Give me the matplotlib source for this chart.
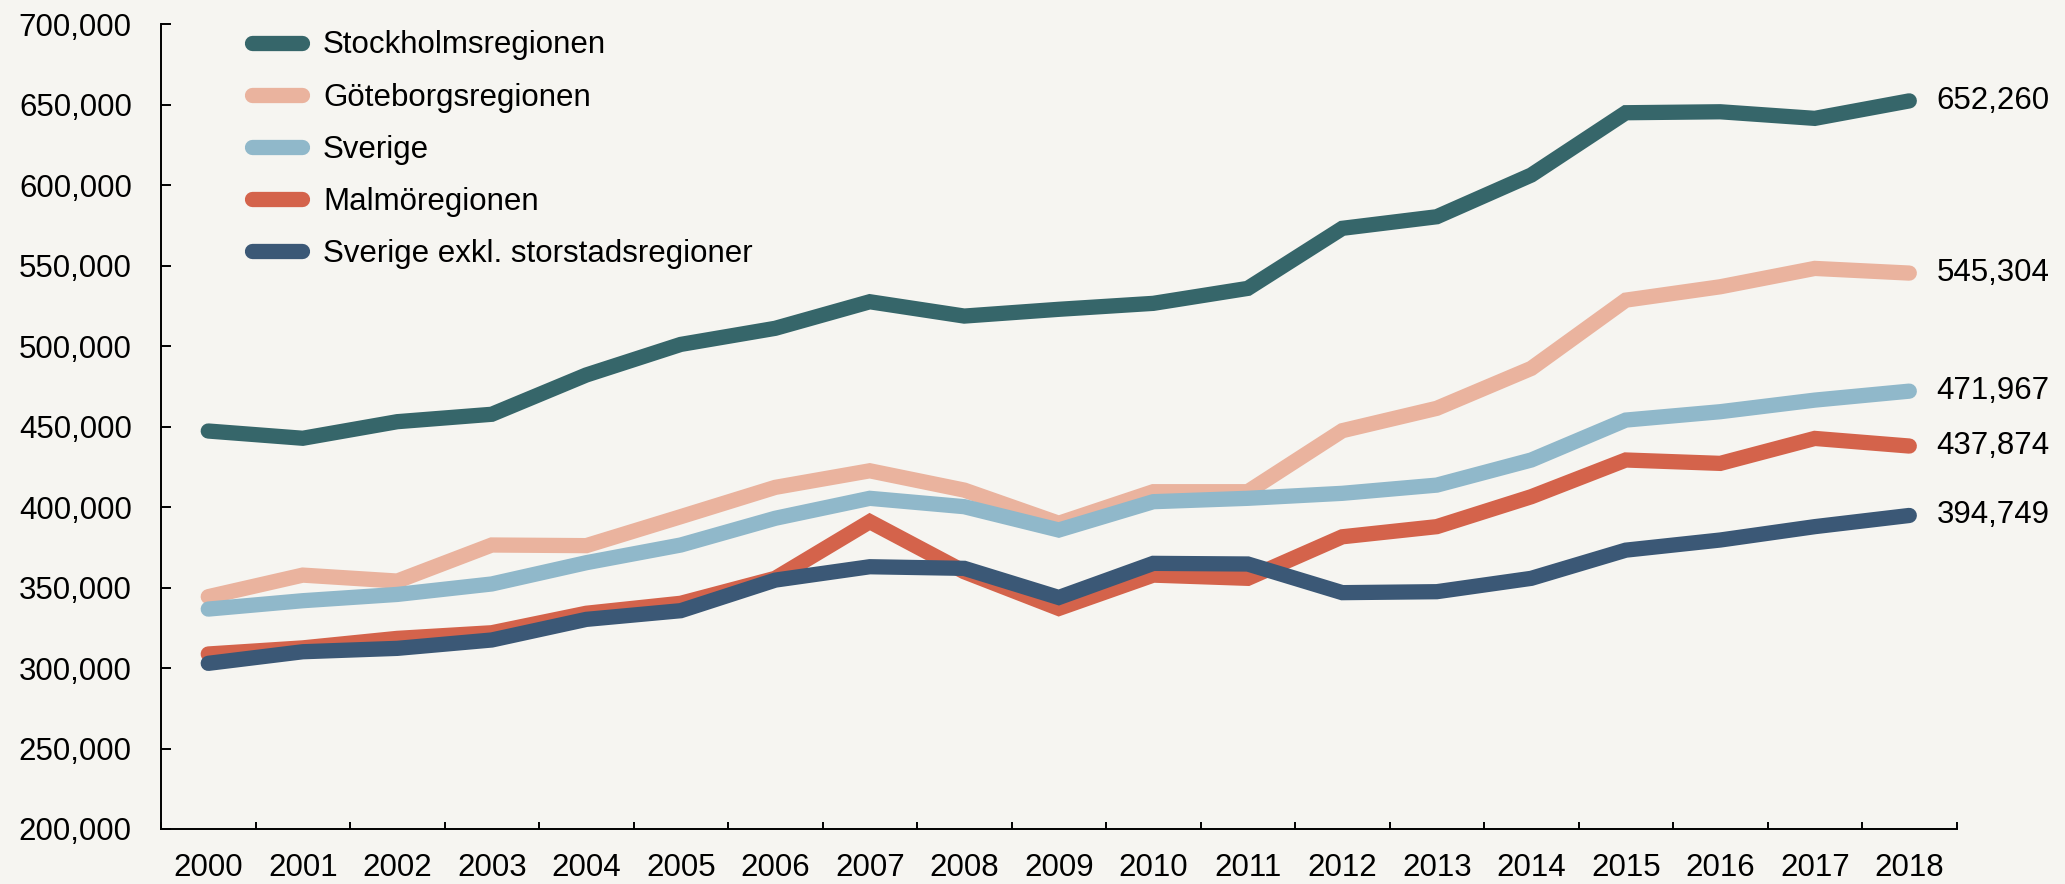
# Library import
import numpy as np
import matplotlib
matplotlib.use('Agg')
import matplotlib.pyplot as plt
from matplotlib.ticker import FuncFormatter

plt.rcParams['font.family'] = ['Liberation Sans', 'DejaVu Sans']

# Input source data
years = ['2000', '2001', '2002', '2003', '2004', '2005', '2006', '2007', '2008', '2009',
         '2010', '2011', '2012', '2013', '2014', '2015', '2016', '2017', '2018']
series_names = ['Stockholmsregionen', 'Göteborgsregionen', 'Sverige',
                'Malmöregionen', 'Sverige exkl. storstadsregioner']

stockholm = [447200, 442700, 453000, 457600, 482000, 501000, 511000, 527500, 518600, 522800,
             526500, 535800, 573100, 580300, 606200, 644900, 645500, 641400, 652260]
goteborg = [344300, 357700, 354000, 376400, 376000, 394000, 412200, 422500, 410500, 389900,
            409500, 409500, 447400, 461300, 486100, 528500, 536800, 548200, 545304]
sverige = [336600, 341800, 345700, 352200, 365400, 376400, 393000, 405400, 400200, 385700,
           403300, 405400, 408500, 413600, 429200, 454000, 459200, 466400, 471967]
malmo = [308700, 312500, 318400, 321900, 334000, 340200, 355700, 390900, 359800, 337000,
         357700, 355700, 381500, 387800, 406400, 429200, 427100, 442600, 437874]
exkl = [302900, 310100, 312200, 317400, 330200, 335600, 354600, 362900, 361900, 343800,
        365000, 364600, 346800, 347400, 355700, 373200, 379500, 387800, 394749]

colors = ['#36666A', '#EAB39E', '#90B8CA', '#D4634B', '#3B5876']
bg = '#F6F5F1'
fs = 22.5

pos = np.arange(len(years))

fig = plt.figure(figsize=(20.65, 8.84), dpi=100, facecolor=bg)
ax = fig.add_axes([0.07797, 0.06222, 0.8695, 0.9106])
ax.set_facecolor(bg)

lines = []
for vals, name, col in zip([stockholm, goteborg, sverige, malmo, exkl], series_names, colors):
    ln, = ax.plot(pos, vals, color=col, lw=11, label=name,
                  solid_capstyle='round', solid_joinstyle='miter')
    lines.append(ln)
    # end value label
    ax.annotate(f'{vals[-1]:,}', xy=(pos[-1], vals[-1]), xytext=(19.5, 0),
                textcoords='offset points', va='center', ha='left', fontsize=fs)

# Axes and ticks
ax.set_xlim(-0.5, len(years) - 0.5)
ax.set_ylim(200000, 700000)
ax.set_yticks(np.arange(200000, 700001, 50000))
ax.yaxis.set_major_formatter(FuncFormatter(lambda v, p: f'{int(v):,}'))
ax.set_xticks(pos)
ax.set_xticklabels(years)
ax.set_xticks(np.arange(-0.5, len(years), 1.0), minor=True)

for s in ['top', 'right']:
    ax.spines[s].set_visible(False)
for s in ['left', 'bottom']:
    ax.spines[s].set_linewidth(1.4)
    ax.spines[s].set_color('black')

ax.tick_params(axis='y', direction='in', length=7, width=1.4, pad=21, labelsize=fs)
ax.tick_params(axis='x', which='major', length=0, pad=17.5, labelsize=fs)
ax.tick_params(axis='x', which='minor', direction='in', length=5, width=1.4)

# Legend
ax.legend(handles=lines, loc='upper left', bbox_to_anchor=(0.0507, 0.992),
          frameon=False, fontsize=fs, handlelength=1.6, handletextpad=0.67,
          labelspacing=0.71, borderpad=0, borderaxespad=0)

plt.savefig('out.png', dpi=100, facecolor=bg)
